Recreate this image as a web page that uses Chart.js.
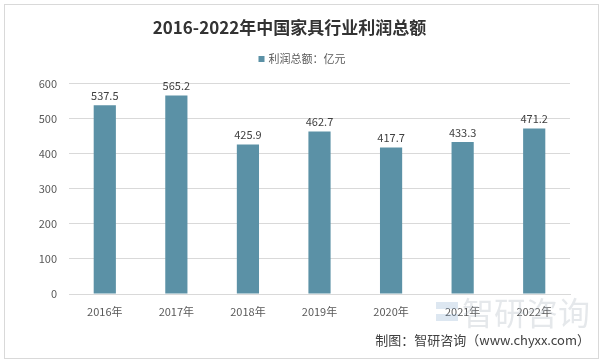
<!DOCTYPE html>
<html>
<head>
<meta charset="utf-8">
<script src="https://cdn.jsdelivr.net/npm/chart.js@4/dist/chart.umd.min.js"></script>
<style>
  html, body { margin: 0; padding: 0; background: #fff; }
  #wrap { width: 604px; height: 363px; position: relative; }
</style>
</head>
<body>
<div id="wrap"><canvas id="profitChart" width="604" height="363"></canvas></div>
<script>
// ===================================
// DATA
// ===================================
const years = ['2016年', '2017年', '2018年', '2019年', '2020年', '2021年', '2022年'];
const profits = [537.5, 565.2, 425.9, 462.7, 417.7, 433.3, 471.2];
const yTicks = [0, 100, 200, 300, 400, 500, 600];
const seriesName = '利润总额：亿元';

const barColor = '#5b91a6';
const fontFamily = "'Noto Sans CJK SC', 'Noto Sans', sans-serif";

// Frame, legend, value labels and source note
const decorations = {
    id: 'decorations',
    beforeDraw(chart) {
        const ctx = chart.ctx;
        ctx.save();
        ctx.fillStyle = '#fff';
        ctx.fillRect(0, 0, chart.width, chart.height);
        ctx.strokeStyle = '#d9d9d9';
        ctx.lineWidth = 1;
        ctx.strokeRect(4.5, 4.5, 594, 354);
        ctx.restore();
    },
    afterDatasetsDraw(chart) {
        const ctx = chart.ctx;
        const meta = chart.getDatasetMeta(0);
        ctx.save();
        ctx.font = '11px ' + fontFamily;
        ctx.fillStyle = '#404040';
        ctx.textAlign = 'center';
        ctx.textBaseline = 'bottom';
        meta.data.forEach((bar, i) => {
            ctx.fillText(profits[i].toFixed(1), bar.x, bar.y - 4);
        });
        ctx.restore();
    },
    afterDraw(chart) {
        const ctx = chart.ctx;
        ctx.save();
        // legend
        ctx.font = '11px ' + fontFamily;
        const tw = ctx.measureText(seriesName).width;
        const lx = 302 - (tw + 10) / 2;
        ctx.fillStyle = barColor;
        ctx.fillRect(lx, 56, 6, 6);
        ctx.fillStyle = '#595959';
        ctx.textAlign = 'left';
        ctx.textBaseline = 'middle';
        ctx.fillText(seriesName, lx + 10, 59);
        // faint watermark
        ctx.font = '32px ' + fontFamily;
        ctx.fillStyle = 'rgba(170, 180, 190, 0.3)';
        ctx.fillText('智研咨询', 462, 313);
        ctx.fillStyle = 'rgba(120, 160, 200, 0.25)';
        ctx.fillRect(436, 302, 22, 7);
        ctx.fillRect(436, 314, 22, 7);
        // source
        ctx.font = '13px ' + fontFamily;
        ctx.fillStyle = '#404040';
        ctx.textAlign = 'right';
        ctx.fillText('制图：智研咨询（www.chyxx.com）', 590, 340);
        ctx.restore();
    }
};

new Chart(document.getElementById('profitChart').getContext('2d'), {
    type: 'bar',
    data: {
        labels: years,
        datasets: [{
            label: seriesName,
            data: profits,
            backgroundColor: barColor,
            borderWidth: 0,
            categoryPercentage: 1,
            barPercentage: 0.31
        }]
    },
    options: {
        responsive: false,
        animation: false,
        layout: { padding: { left: 9, right: 34, top: 0, bottom: 0 } },
        scales: {
            y: {
                min: 0,
                max: 600,
                afterFit(scale) { scale.width = 60; },
                afterBuildTicks(scale) { scale.ticks = yTicks.map(v => ({ value: v })); },
                grid: { color: '#d9d9d9', drawTicks: false },
                border: { display: false },
                ticks: {
                    color: '#595959',
                    padding: 12,
                    font: { size: 11, family: fontFamily }
                }
            },
            x: {
                afterFit(scale) { scale.height = 69; },
                grid: { display: false },
                border: { color: '#d9d9d9' },
                ticks: {
                    color: '#595959',
                    padding: 3,
                    font: { size: 11, family: fontFamily }
                }
            }
        },
        plugins: {
            title: {
                display: true,
                text: '2016-2022年中国家具行业利润总额',
                color: '#333',
                font: { size: 17, weight: 'bold', family: fontFamily },
                padding: { top: 17, bottom: 46 }
            },
            legend: { display: false },
            tooltip: { enabled: false }
        }
    },
    plugins: [decorations]
});
</script>
</body>
</html>
